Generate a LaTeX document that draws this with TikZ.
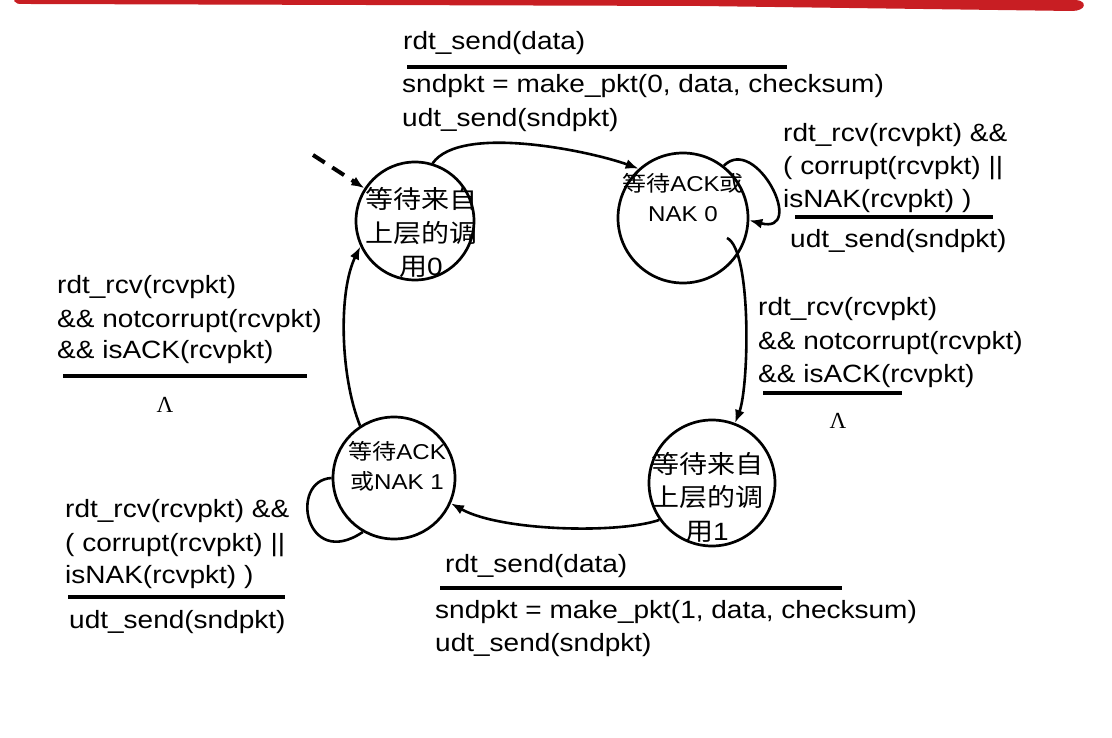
\documentclass[tikz,border=0pt]{standalone}
\usepackage{fontspec}
\setmainfont{Liberation Sans}[FakeStretch=1.12]
\newfontfamily\cjkfont{Noto Sans CJK SC}[FakeStretch=1.12]
\newfontfamily\greekfont{Liberation Serif}
\newcommand{\zh}[1]{{\cjkfont #1}}
\usetikzlibrary{arrows.meta}
\definecolor{slidered}{RGB}{200,30,35}

\begin{document}
\begin{tikzpicture}[x=1pt, y=-1pt, >={Latex[length=13pt,width=10pt]},
  state/.style={circle, draw, line width=2.7pt, inner sep=0pt},
  statetxt/.style={align=center, inner sep=0pt, font=\fontsize{25}{33.5}\selectfont},
  acktxt/.style={align=center, inner sep=0pt, font=\fontsize{21.5}{30}\selectfont},
  txt/.style={anchor=base west, inner sep=0pt, font=\fontsize{25}{33}\selectfont},
  nil/.style={anchor=base, inner sep=0pt, font=\greekfont\fontsize{23}{23}\selectfont},
  bar/.style={line width=3.5pt},
  edge/.style={line width=2.6pt}]
\path[fill=white] (0,0) rectangle (1112,738);
\useasboundingbox (0,0) rectangle (1112,738);
% slide header stroke
\fill[slidered] (14,1) .. controls (14,0) .. (30,0) -- (1076,0) .. controls (1088,1) and (1086,11) .. (1072,11) -- (700,6) -- (30,4) .. controls (16,4) .. (14,1) -- cycle;

% states
\node[state, minimum size=118pt] (s0) at (415,221) {};
\node[state, minimum size=130pt] (n0) at (683,218) {};
\node[state, minimum size=126pt] (s1) at (712,483) {};
\node[state, minimum size=122pt] (n1) at (394,478) {};
\node[statetxt] (s0t) at (421,233) {\zh{等待来自}\\\zh{上层的调}\\\zh{用}0};
\node[acktxt] (n0t) at (683,198) {\zh{等待}ACK\zh{或}\\NAK 0};
\node[statetxt] (s1t) at (707,497) {\zh{等待来自}\\\zh{上层的调}\\\zh{用}1};
\node[acktxt] (n1t) at (397,466) {\zh{等待}ACK\\\zh{或}NAK 1};

% transitions
\coordinate (init) at (313,155);
\coordinate (n0out) at ([shift={(44,20)}]n0.center);
\draw[->, line width=4pt, dash pattern=on 14pt off 9pt] (init) -- (s0);
\draw[edge, ->] (s0.73) .. controls +(28,-40) and +(-46,-17) .. (n0.132);
\draw[edge, ->] (n0out) .. controls +(25,12) and +(14,-36) .. (s1.69);
\draw[edge, ->] (s1.215) .. controls +(-40,14) and +(50,28) .. (n1.-24);
\draw[edge, ->] (n1.123) .. controls +(-20,-50) and +(-22,45) .. (s0.205);
\draw[edge, ->] (n0.52) .. controls +(32,-32) and +(58,15) .. (n0.-2);
\draw[edge] (n1.180) .. controls +(-43,2) and +(-58,39) .. (n1.240);

% top: wait call 0 -> wait ACK 0
\node[txt] (send0) at (403,50) {rdt\_send(data)};
\draw[bar] (407,67) -- (787,67);
\node[txt] (make0) at (402,93) {sndpkt = make\_pkt(0, data, checksum)};
\node[txt] (udt0) at (402,127) {udt\_send(sndpkt)};

% loop at wait ACK 0
\node[txt] (bad0a) at (783,142) {rdt\_rcv(rcvpkt) \&\&};
\node[txt] (bad0b) at (783,175) {( corrupt(rcvpkt) ||};
\node[txt] (bad0c) at (783,208) {isNAK(rcvpkt) )};
\draw[bar] (795,217) -- (993,217);
\node[txt] (resend0) at (790,248) {udt\_send(sndpkt)};

% right: wait ACK 0 -> wait call 1
\node[txt] (ok0a) at (758,316) {rdt\_rcv(rcvpkt)};
\node[txt] (ok0b) at (758,349) {\&\& notcorrupt(rcvpkt)};
\node[txt] (ok0c) at (758,382) {\&\& isACK(rcvpkt)};
\draw[bar] (763,393) -- (902,393);
\node[nil] (nil0) at (838,428) {Λ};

% bottom: wait call 1 -> wait ACK 1
\node[txt] (send1) at (445,572) {rdt\_send(data)};
\draw[bar] (440,588) -- (842,588);
\node[txt] (make1) at (435,618) {sndpkt = make\_pkt(1, data, checksum)};
\node[txt] (udt1) at (435,651) {udt\_send(sndpkt)};

% loop at wait ACK 1
\node[txt] (bad1a) at (65,517) {rdt\_rcv(rcvpkt) \&\&};
\node[txt] (bad1b) at (65,551) {( corrupt(rcvpkt) ||};
\node[txt] (bad1c) at (65,583) {isNAK(rcvpkt) )};
\draw[bar] (68,597) -- (285,597);
\node[txt] (resend1) at (69,628) {udt\_send(sndpkt)};

% left: wait ACK 1 -> wait call 0
\node[txt] (ok1a) at (57,294) {rdt\_rcv(rcvpkt)};
\node[txt] (ok1b) at (57,327) {\&\& notcorrupt(rcvpkt)};
\node[txt] (ok1c) at (57,358) {\&\& isACK(rcvpkt)};
\draw[bar] (63,376) -- (307,376);
\node[nil] (nil1) at (165,412) {Λ};
\end{tikzpicture}
\end{document}
